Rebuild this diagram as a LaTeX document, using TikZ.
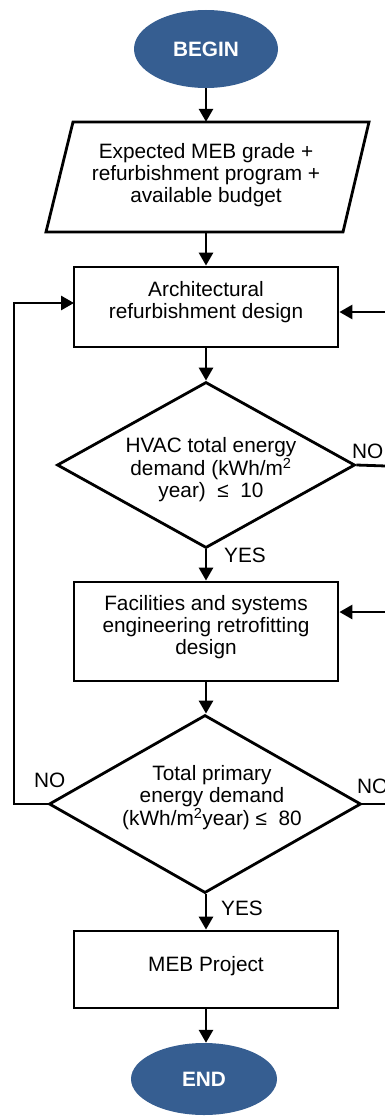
\documentclass[tikz,border=0pt]{standalone}
\usepackage{fontspec}
\setmainfont{Liberation Sans}
\usetikzlibrary{shapes.geometric,arrows.meta}
\definecolor{termblue}{RGB}{54,94,145}
\begin{document}
\begin{tikzpicture}[x=1pt,y=-1pt,
  every node/.style={font=\fontsize{20.8}{21.8}\selectfont, inner sep=0pt},
  line/.style={line width=2.8pt, line join=miter},
  arr/.style={line, -{Triangle[length=13pt,width=14pt]}},
  terminal/.style={ellipse, fill=termblue, text=white, font=\fontsize{20.8}{21.8}\selectfont\bfseries},
  procbox/.style={rectangle, draw, line width=2.8pt, minimum width=264pt},
  decision/.style={diamond, draw, line width=2.8pt},
  lbl/.style={anchor=west}]
\useasboundingbox (0,0) rectangle (385,1116);

% nodes
\node[terminal, minimum width=144pt, minimum height=78pt] (begin) at (206,49) {BEGIN};
\node[minimum width=270pt, minimum height=110pt] (input) at (206,177) {};
\draw[line] (73,122) -- (369,122) -- (343,232) -- (46,232) -- cycle;
\node[align=center] (inputtxt) at (206,175) {Expected MEB grade +\\refurbishment program +\\available budget};

\node[procbox, minimum height=80pt] (arch) at (206,307) {};
\node[align=center] (archtxt) at (206,302) {Architectural\\refurbishment design};

\node[decision, minimum width=298pt, minimum height=166pt] (d1) at (206,465) {};
\node[align=center] (d1txt) at (211,470) {HVAC total energy\\demand (kWh/m\textsuperscript{2}\\year)\ \ ≤\ \ 10};

\node[procbox, minimum height=99pt] (fac) at (206,631.5) {};
\node[align=center] (factxt) at (206,627) {Facilities and systems\\engineering retrofitting\\design};

\node[decision, minimum width=312pt, minimum height=178pt] (d2) at (205,804) {};
\node[align=center] (d2txt) at (212,798) {Total primary\\energy demand\\(kWh/m\textsuperscript{2}year)\ ≤\ \ 80};

\node[procbox, minimum height=77pt] (meb) at (206,969.5) {};
\node (mebtxt) at (206,966) {MEB Project};

\node[terminal, minimum width=146pt, minimum height=72pt] (end) at (204,1079) {END};

% main flow
\draw[arr] (begin.south) -- (begin.south |- input.north);
\draw[arr] (input.south) -- (arch.north);
\draw[arr] (arch.south) -- (d1.north);
\draw[arr] (d1.south) -- (fac.north);
\draw[arr] (fac.south) -- (fac.south |- d2.north);
\draw[arr] (d2.south -| meb.north) -- (meb.north);
\draw[arr] (meb.south) -- (meb.south |- end.north);

% left loop
\coordinate (lx) at (14,303);
\coordinate (archin) at (74,303);
\draw[arr] (d2.west) -| (lx) -- (archin);

% right side (cut off at the edge)
\coordinate (r1) at (386,312);
\coordinate (r2) at (386,612);
\coordinate (r3) at (386,466);
\coordinate (r4) at (386,804);
\draw[arr] (r1) -- (r1 -| arch.east);
\draw[arr] (r2) -- (r2 -| fac.east);
\draw[line] (d1.east) -- (r3);
\draw[line] (d2.east) -- (r4);

% labels
\node[lbl] (no1) at (352,451) {NO};
\node[lbl] (yes1) at (224,555) {YES};
\node[lbl] (no2) at (34,780) {NO};
\node[lbl] (no3) at (357,786) {NO};
\node[lbl] (yes2) at (221,908) {YES};
\end{tikzpicture}
\end{document}
